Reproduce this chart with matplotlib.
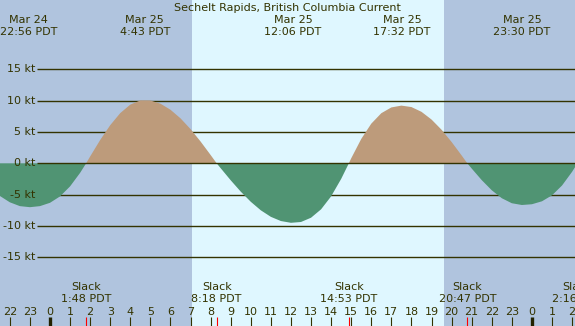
import matplotlib
matplotlib.use("Agg")
import matplotlib.pyplot as plt
import matplotlib.transforms as mtransforms

# ---------------- data ----------------
title = "Sechelt Rapids, British Columbia Current"

# current speed readings (hours from Mar 25 00:00 PDT, knots; + flood, - ebb)
times = [-3.0, -2.5, -2.0, -1.5, -1.0, -0.5, 0.0, 0.5, 1.0, 1.5, 1.8,
         2.0, 2.5, 3.0, 3.5, 4.0, 4.5, 5.0, 5.5, 6.0, 6.5, 7.0, 7.5, 8.0, 8.3,
         8.5, 9.0, 9.5, 10.0, 10.5, 11.0, 11.5, 12.0, 12.5, 13.0, 13.5, 14.0,
         14.5, 14.883, 15.0, 15.5, 16.0, 16.5, 17.0, 17.5, 18.0, 18.5, 19.0,
         19.5, 20.0, 20.5, 20.783, 21.0, 21.5, 22.0, 22.5, 23.0, 23.5, 24.0,
         24.5, 25.0, 25.5, 26.0, 26.267, 26.5]
speeds = [-3.84, -5.20, -6.22, -6.83, -7.00, -6.83, -6.30, -5.28, -3.68, -1.52, 0.0,
          1.09, 3.72, 6.08, 8.01, 9.36, 10.03, 10.02, 9.51, 8.54, 7.17, 5.45, 3.47, 1.32, 0.0,
          -0.78, -2.71, -4.52, -6.14, -7.50, -8.54, -9.21, -9.49, -9.36, -8.68, -7.34, -5.27,
          -2.49, 0.0, 0.79, 3.88, 6.32, 7.99, 8.91, 9.20, 8.97, 8.21, 6.98,
          5.35, 3.40, 1.25, 0.0, -0.83, -2.68, -4.30, -5.57, -6.37, -6.65, -6.53,
          -6.06, -5.11, -3.54, -1.36, 0.0, 1.3]

# max current events (top labels)
max_times = [-1.067, 4.717, 12.1, 17.533, 23.5]
max_dates = ["Mar 24", "Mar 25", "Mar 25", "Mar 25", "Mar 25"]
max_labels = ["22:56 PDT", "4:43 PDT", "12:06 PDT", "17:32 PDT", "23:30 PDT"]

# slack events (bottom labels)
slack_times = [1.8, 8.3, 14.883, 20.783, 26.267]
slack_labels = ["1:48 PDT", "8:18 PDT", "14:53 PDT", "20:47 PDT", "2:16 PDT"]

# daylight
sunrise = 7.07
sunset = 19.62

# axis ticks
kt_levels = [15, 10, 5, 0, -5, -10, -15]
kt_labels = ["15 kt", "10 kt", "5 kt", "0 kt", "-5 kt", "-10 kt", "-15 kt"]
hour_ticks = list(range(-2, 27))
hour_labels = [str(h % 24) for h in hour_ticks]

# ---------------- styling ----------------
W, H = 575, 326
night_col = "#b0c4de"
day_col = "#dff7ff"
flood_col = "#bd9b7b"
ebb_col = "#509473"
ink = "#333300"
fs = 8

pph = 20.08      # pixels per hour
x0 = 50.0        # pixel of hour 0
y0 = 163.3       # pixel of 0 kt
ppk = 6.27       # pixels per knot

fig = plt.figure(figsize=(W / 100, H / 100), dpi=100)
ax = fig.add_axes([0, 0, 1, 1])
ax.set_axis_off()
xmin, xmax = -x0 / pph, (W - x0) / pph
ymin, ymax = -(H - y0) / ppk, y0 / ppk
ax.set_xlim(xmin, xmax)
ax.set_ylim(ymin, ymax)

# blended transform: x in hours, y in pixels from top
def ypx(p):
    return 1 - p / H

blend = mtransforms.blended_transform_factory(ax.transData, ax.transAxes)

# backgrounds
ax.axvspan(xmin, sunrise, color=night_col, zorder=0, lw=0)
ax.axvspan(sunrise, sunset, color=day_col, zorder=0, lw=0)
ax.axvspan(sunset, xmax, color=night_col, zorder=0, lw=0)

# grid lines
gx0 = (37 - x0) / pph
for lv in kt_levels:
    ax.plot([gx0, xmax], [lv, lv], color=ink, lw=1.0,
            zorder=3 if lv == 0 else 1, solid_capstyle="butt")

# current fill
ax.fill_between(times, speeds, 0, where=[s >= 0 for s in speeds],
                interpolate=True, color=flood_col, lw=0, zorder=2)
ax.fill_between(times, speeds, 0, where=[s <= 0 for s in speeds],
                interpolate=True, color=ebb_col, lw=0, zorder=2)

# y labels
for lv, lab in zip(kt_levels, kt_labels):
    ax.text((35 - x0) / pph, lv, lab, ha="right", va="center",
            fontsize=fs, color=ink, zorder=5)

# title
ax.text(0.5, ypx(8), title, transform=ax.transAxes, ha="center", va="center",
        fontsize=fs, color=ink, zorder=5)

# max labels
for t, d, lab in zip(max_times, max_dates, max_labels):
    ax.text(t, ypx(20), d, transform=blend, ha="center", va="center",
            fontsize=fs, color=ink, zorder=5)
    ax.text(t, ypx(32), lab, transform=blend, ha="center", va="center",
            fontsize=fs, color=ink, zorder=5)

# slack labels
for t, lab in zip(slack_times, slack_labels):
    ax.text(t, ypx(287), "Slack", transform=blend, ha="center", va="center",
            fontsize=fs, color=ink, zorder=5)
    ax.text(t, ypx(298.5), lab, transform=blend, ha="center", va="center",
            fontsize=fs, color=ink, zorder=5)

# hour ticks and labels
for h, lab in zip(hour_ticks, hour_labels):
    ax.text(h, ypx(312), lab, transform=blend, ha="center", va="center",
            fontsize=fs, color=ink, zorder=5)
    thick = (h % 24 == 0)
    ax.plot([h, h], [ypx(317), 0], transform=blend, color=ink if not thick else "#222200",
            lw=2.4 if thick else 0.8, solid_capstyle="butt", zorder=5)

for t in slack_times:
    ax.plot([t, t], [ypx(317), 0], transform=blend, color="red",
            lw=0.8, solid_capstyle="butt", zorder=5)

fig.savefig("out.png", dpi=100)
